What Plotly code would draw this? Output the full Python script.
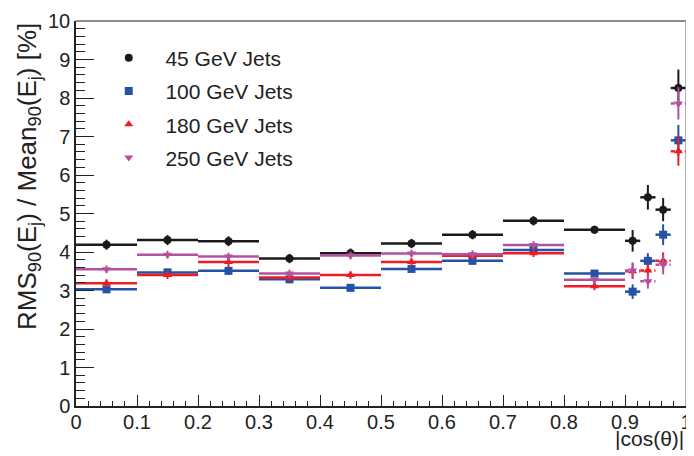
import plotly.graph_objects as go

# ---- data ----
bin_edges = [0.0, 0.1, 0.2, 0.3, 0.4, 0.5, 0.6, 0.7, 0.8, 0.9, 0.925, 0.95, 0.975, 1.0]

names = ["45 GeV Jets", "100 GeV Jets", "180 GeV Jets", "250 GeV Jets"]

res_45 = [4.19, 4.31, 4.28, 3.83, 3.97, 4.22, 4.45, 4.81, 4.58, 4.29, 5.42, 5.10, 8.26]
err_45 = [0.13, 0.13, 0.13, 0.12, 0.12, 0.12, 0.12, 0.12, 0.10, 0.28, 0.32, 0.30, 0.48]

res_100 = [3.03, 3.47, 3.51, 3.29, 3.07, 3.56, 3.77, 4.05, 3.44, 2.97, 3.77, 4.45, 6.90]
err_100 = [0.08, 0.10, 0.10, 0.10, 0.08, 0.08, 0.08, 0.10, 0.08, 0.19, 0.20, 0.27, 0.40]

res_180 = [3.19, 3.40, 3.74, 3.34, 3.40, 3.74, 3.90, 3.97, 3.11, 3.50, 3.52, 3.77, 6.62]
err_180 = [0.10, 0.10, 0.13, 0.10, 0.10, 0.10, 0.10, 0.10, 0.10, 0.20, 0.17, 0.22, 0.38]

res_250 = [3.55, 3.93, 3.88, 3.44, 3.91, 3.96, 3.94, 4.18, 3.28, 3.52, 3.24, 3.67, 7.86]
err_250 = [0.10, 0.10, 0.10, 0.10, 0.10, 0.10, 0.10, 0.10, 0.10, 0.21, 0.19, 0.25, 0.42]

x_ticks = [0, 0.1, 0.2, 0.3, 0.4, 0.5, 0.6, 0.7, 0.8, 0.9, 1]
x_tick_text = ["0", "0.1", "0.2", "0.3", "0.4", "0.5", "0.6", "0.7", "0.8", "0.9", "1"]
y_ticks = list(range(0, 11))

# ---- styles ----
colors = ["#1a1a1a", "#2452a4", "#ee1c24", "#b5509f"]
symbols = ["circle", "square", "triangle-up", "triangle-down"]
sizes = [8, 8, 8, 8]
dashed_narrow = [False, False, True, True]

centers = [(a + b) / 2 for a, b in zip(bin_edges[:-1], bin_edges[1:])]
halfw = [(b - a) / 2 for a, b in zip(bin_edges[:-1], bin_edges[1:])]

series = [(res_45, err_45), (res_100, err_100), (res_180, err_180), (res_250, err_250)]

fig = go.Figure()
FONT = "Liberation Sans, Arial, sans-serif"
PAD = "\u00a0\u00a0"

for i, (vals, errs) in enumerate(series):
    col = colors[i]
    if dashed_narrow[i]:
        wide = [j for j in range(len(vals)) if halfw[j] > 0.02]
        narrow = [j for j in range(len(vals)) if halfw[j] <= 0.02]
    else:
        wide = list(range(len(vals)))
        narrow = []
    for idx, dash in ((wide, "solid"), (narrow, "dash")):
        if not idx:
            continue
        xs, ys = [], []
        for j in idx:
            xs += [bin_edges[j], bin_edges[j + 1], None]
            ys += [vals[j], vals[j], None]
        fig.add_trace(go.Scatter(x=xs, y=ys, mode="lines",
                                 line=dict(color=col, width=2.5,
                                           dash="4px,3px" if dash == "dash" else "solid"),
                                 showlegend=False, hoverinfo="skip"))
    fig.add_trace(go.Scatter(
        x=centers, y=vals, mode="markers", name=PAD + names[i],
        marker=dict(symbol=symbols[i], color=col, size=sizes[i]),
        error_y=dict(type="data", array=errs, visible=True, color=col, thickness=2, width=0),
        legendgroup=names[i],
    ))

# The page body has an 8px default margin, so the figure is sized/shifted to compensate.
fig.update_layout(
    width=686, height=448,
    margin=dict(l=68, r=2, t=4, b=50),
    paper_bgcolor="white", plot_bgcolor="white",
    font=dict(family=FONT, size=20, color="#222"),
    showlegend=True,
    legend=dict(x=0.0455, y=0.957, xanchor="left", yanchor="top",
                bgcolor="rgba(0,0,0,0)", font=dict(size=21, family=FONT, color="#222"),
                traceorder="grouped", tracegroupgap=3, itemwidth=40),
    xaxis=dict(range=[0, 1], showgrid=False, zeroline=False,
               showline=True, linecolor="#222", linewidth=1.5,
               ticks="inside", ticklen=11, tickwidth=1.2, tickcolor="#222",
               tickvals=x_ticks, ticktext=x_tick_text, ticklabeloverflow="allow",
               ticklabelstandoff=-3,
               tickfont=dict(size=20, family=FONT, color="#222"),
               minor=dict(dtick=0.02, ticks="inside", ticklen=5, tickcolor="#222", tickwidth=1.2)),
    yaxis=dict(range=[0, 10], showgrid=False, zeroline=False,
               showline=True, linecolor="#222", linewidth=1.5,
               ticks="inside", ticklen=18, tickwidth=1.2, tickcolor="#222",
               tickvals=y_ticks, ticklabeloverflow="allow",
               tickfont=dict(size=20, family=FONT, color="#222"),
               minor=dict(dtick=0.2, ticks="inside", ticklen=9, tickcolor="#222", tickwidth=1.2)),
    shapes=[
        dict(type="line", xref="paper", yref="paper", x0=0, x1=1, y0=1, y1=1,
             line=dict(color="#666", width=1.5)),
        dict(type="line", xref="paper", yref="paper", x0=1, x1=1, y0=0, y1=1,
             line=dict(color="#999", width=1.5)),
    ],
    annotations=[
        dict(text="RMS<sub>90</sub>(E<sub>j</sub>) / Mean<sub>90</sub>(E<sub>j</sub>) [%]",
             xref="paper", yref="paper", x=-0.078, y=1.0, xanchor="center", yanchor="top",
             textangle=-90, showarrow=False, font=dict(size=26, family=FONT, color="#222")),
        dict(text="|cos(θ)|", xref="paper", yref="paper", x=1.0, y=-0.085,
             xanchor="right", yanchor="middle", showarrow=False,
             font=dict(size=21, family=FONT, color="#222")),
    ],
)

fig.write_html("out.html")
